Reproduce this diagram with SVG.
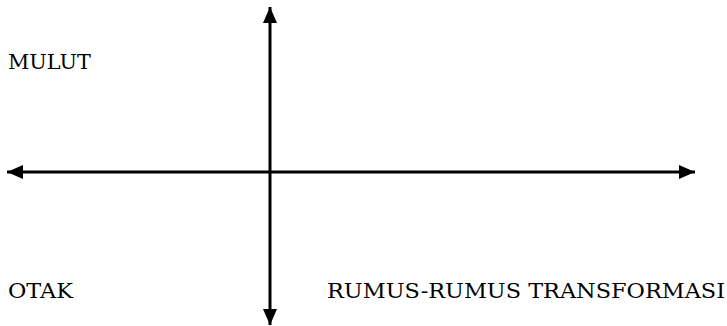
<svg xmlns="http://www.w3.org/2000/svg" width="727" height="326" viewBox="0 0 727 326">
<style>
.lbl{font-family:"DejaVu Serif","Liberation Serif",serif;font-size:20px;fill:#000}
.ax{stroke:#000;stroke-width:3;fill:none}
</style>
<defs>
<marker id="ah" markerWidth="16" markerHeight="14" refX="16" refY="7" orient="auto" markerUnits="userSpaceOnUse">
<path d="M0,0 L16,7 L0,14 Z" fill="#000"/>
</marker>
</defs>
<rect width="727" height="326" fill="#fff"/>
<g id="connectors">
<line class="ax" x1="270" y1="165" x2="270" y2="7" marker-end="url(#ah)"/>
<line class="ax" x1="270" y1="165" x2="270" y2="325" marker-end="url(#ah)"/>
<line class="ax" x1="270" y1="172" x2="7" y2="172" marker-end="url(#ah)"/>
<line class="ax" x1="270" y1="172" x2="695" y2="172" marker-end="url(#ah)"/>
</g>
<g id="mulut"><text class="lbl" x="8" y="69" textLength="83" lengthAdjust="spacingAndGlyphs">MULUT</text></g>
<g id="otak"><text class="lbl" x="8" y="298" textLength="65" lengthAdjust="spacingAndGlyphs">OTAK</text></g>
<g id="rumus"><text class="lbl" x="327" y="298" textLength="398" lengthAdjust="spacingAndGlyphs">RUMUS-RUMUS TRANSFORMASI</text></g>
</svg>
